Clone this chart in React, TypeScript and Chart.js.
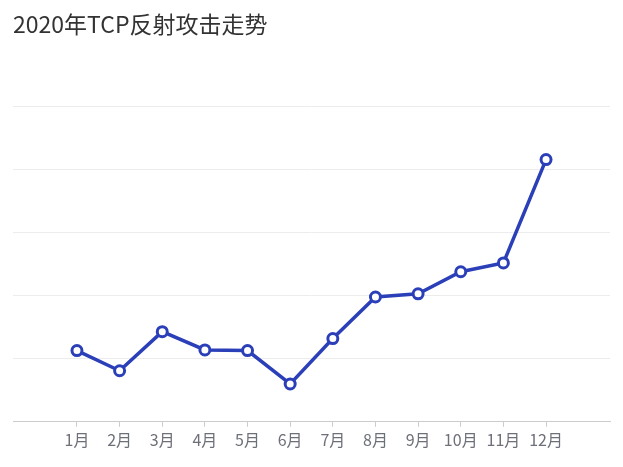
import React, { useEffect, useRef } from "react";
import { Chart, registerables } from "chart.js";

Chart.register(...registerables);

const months = ["1月", "2月", "3月", "4月", "5月", "6月", "7月", "8月", "9月", "10月", "11月", "12月"];
const attacks = [1.13, 0.81, 1.43, 1.14, 1.13, 0.6, 1.32, 1.98, 2.03, 2.38, 2.52, 4.16];

const App: React.FC = () => {
  const canvasRef = useRef<HTMLCanvasElement | null>(null);
  const chartRef = useRef<Chart | null>(null);

  useEffect(() => {
    document.body.style.margin = "0";
    const ctx = canvasRef.current?.getContext("2d");
    if (!ctx) return;
    if (chartRef.current) chartRef.current.destroy();

    chartRef.current = new Chart(ctx, {
      type: "line",
      data: {
        datasets: [
          {
            label: "TCP反射攻击",
            data: attacks.map((v, i) => ({ x: i + 1, y: v })),
            borderColor: "#2b40b8",
            borderWidth: 3.5,
            pointRadius: 5,
            pointBorderWidth: 3,
            pointBackgroundColor: "#ffffff",
            pointBorderColor: "#2b40b8",
            tension: 0,
          },
        ],
      },
      options: {
        responsive: false,
        animation: false,
        layout: { padding: { left: 13, right: 13, top: 10, bottom: 13 } },
        scales: {
          x: {
            type: "linear",
            min: -0.5,
            max: 13.5,
            afterBuildTicks: (axis: any) => {
              axis.ticks = months.map((_, i) => ({ value: i + 1 }));
            },
            ticks: {
              autoSkip: false,
              maxRotation: 0,
              color: "#6e7079",
              padding: 4,
              font: { family: "'Noto Sans CJK SC', 'Noto Sans', sans-serif", size: 16 },
              callback: (value: any) => months[Number(value) - 1] ?? "",
            },
            grid: { drawOnChartArea: false, tickLength: 5, color: "#cccccc" },
            border: { color: "#cccccc", width: 1 },
          },
          y: {
            min: 0,
            max: 5,
            ticks: { display: false, stepSize: 1 },
            grid: { color: "#ececec", drawTicks: false },
            border: { display: false },
          },
        },
        plugins: {
          legend: { display: false },
          tooltip: { enabled: false },
          title: {
            display: true,
            text: "2020年TCP反射攻击走势",
            align: "start",
            color: "#333333",
            font: { family: "'Noto Sans CJK SC', 'Noto Sans', sans-serif", size: 23, weight: "normal" },
            padding: { top: 0, bottom: 69 },
          },
        },
      },
    });

    return () => {
      if (chartRef.current) {
        chartRef.current.destroy();
        chartRef.current = null;
      }
    };
  }, []);

  return (
    <div style={{ width: 623, height: 467 }}>
      <canvas ref={canvasRef} width={623} height={467}></canvas>
    </div>
  );
};

export default App;
